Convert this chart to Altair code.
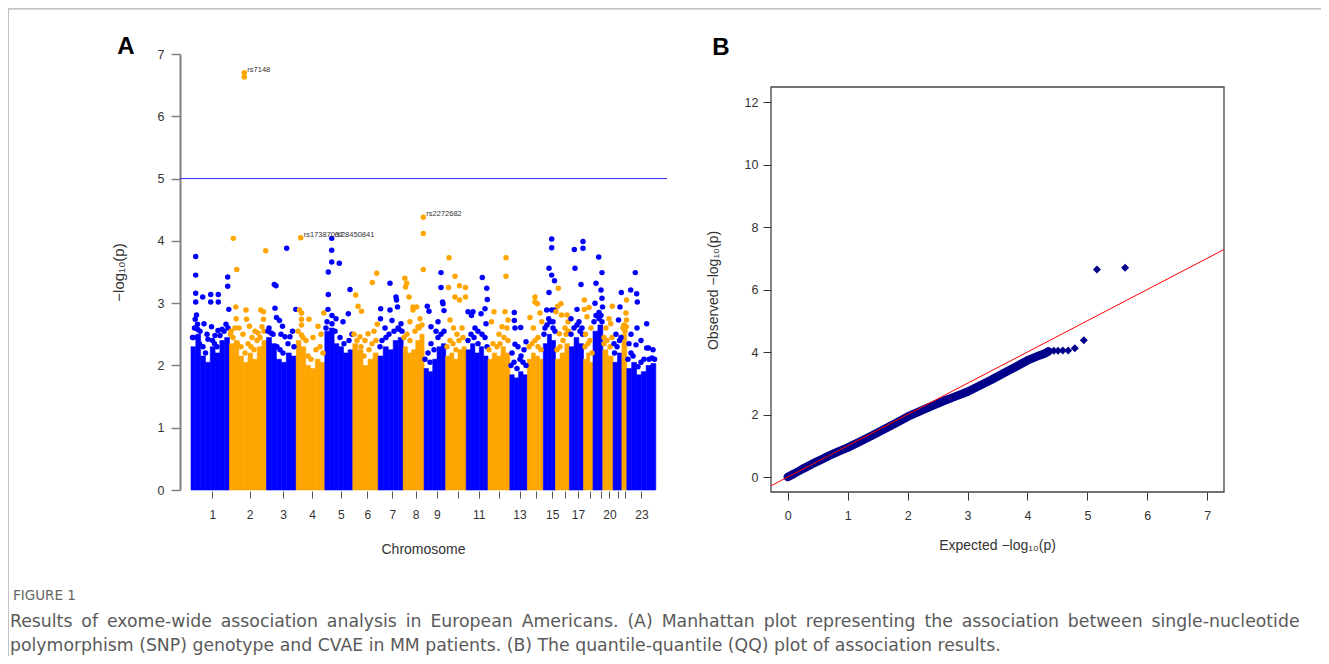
import json
import pandas as pd
import altair as alt

# ---------------- Panel A: Manhattan plot data ----------------
chrom_start = [0, 38.5, 75.5, 105.2, 133.8, 161.8, 187.2, 212.2, 233.1, 254.7, 275.2, 297.0,
               318.8, 336.4, 352.3, 364.5, 378.4, 392.5, 402.0, 411.8, 422.1, 430.9, 435.8]
chrom_end = chrom_start[1:] + [464.8]
tick_pos = [21.3, 58.5, 92.2, 121.2, 149.8, 176.3, 201.4, 224.5, 245.8, 266.5, 287.8, 308.1,
            328.5, 345.1, 361.2, 374.3, 387.0, 399.1, 409.8, 418.4, 427.3, 433.5, 450.4]
tick_label = ["1", "2", "3", "4", "5", "6", "7", "8", "9", "", "11", "", "13", "", "15", "",
              "17", "", "", "20", "", "", "23"]

# top of the dense block of SNPs, several segments per chromosome
band_top = [
    [2.3, 2.5, 2.15, 2.05, 2.3, 2.2, 2.4, 2.45],
    [2.35, 2.4, 2.15, 2.05, 2.2, 2.1, 2.3, 2.4],
    [2.45, 2.35, 2.1, 2.05, 2.2, 2.15],
    [2.4, 2.3, 2.0, 1.95, 2.1, 2.05],
    [2.55, 2.6, 2.35, 2.3, 2.2, 2.25],
    [2.35, 2.25, 2.0, 2.1, 2.2],
    [2.15, 2.3, 2.25, 2.4, 2.45],
    [2.3, 2.2, 2.25, 2.4, 2.5],
    [1.95, 1.9, 2.1, 2.3, 2.35],
    [2.15, 2.2, 2.1, 2.25, 2.3],
    [2.25, 2.35, 2.2, 2.3, 2.15],
    [2.1, 2.2, 2.15, 2.3, 2.2],
    [1.85, 1.8, 1.9, 1.85],
    [2.1, 2.2, 2.15, 2.1],
    [2.35, 2.5, 2.4],
    [2.1, 2.2, 2.35],
    [2.3, 2.45, 2.35],
    [2.1, 2.2, 2.05],
    [2.55, 2.65],
    [2.25, 2.15],
    [2.05, 2.2],
    [2.5],
    [1.95, 2.05, 1.85, 1.9, 2.0, 2.03],
]

# individual SNPs standing above the dense block (cumulative position, -log10 p)
snp_pos = [
    4.7, 4.7, 4.7, 4.7, 11.7, 19.7, 19.7, 27.3, 27.3, 36.7, 36.7, 37.8, 5.5, 4.2, 6.5, 13.0, 20.5, 27.0, 35.0, 9.0, 31.0, 16.0, 2.5, 24.0,
    53.3, 53.3, 42.3, 45.7, 44.8, 45.2, 55.0, 55.5, 69.7, 72.5, 72.5, 74.7, 48.0, 58.5, 64.0, 71.0, 52.0, 40.0, 61.0, 67.0,
    95.7, 83.3, 85.0, 84.0, 85.5, 91.5, 88.5, 104.8, 94.0, 99.0, 78.0, 101.5, 80.0, 90.0,
    109.7, 108.5, 132.8, 118.0, 110.5, 110.5, 110.5, 110.5, 127.0, 122.0, 115.0, 130.0,
    140.7, 140.7, 140.7, 148.3, 137.3, 137.3, 137.0, 159.0, 157.3, 141.0, 152.0, 145.0, 135.0,
    164.7, 167.0, 170.5, 185.7, 181.3, 186.3, 177.0, 169.0, 174.0, 183.0,
    199.0, 189.7, 199.0, 205.0, 205.5, 206.5, 189.5, 201.0, 210.0, 194.0, 208.0,
    232.3, 232.3, 232.3, 213.8, 215.7, 214.5, 218.0, 222.0, 222.0, 229.0, 225.7, 219.0, 227.0,
    236.3, 238.0, 250.0, 250.0, 251.5, 252.0, 253.0, 240.0, 240.0, 245.0, 247.0,
    258.0, 264.0, 268.5, 264.0, 268.5, 274.5, 274.5, 257.5, 262.5, 259.0, 271.0, 266.0,
    291.3, 295.8, 296.3, 277.0, 282.0, 280.5, 290.0, 294.0, 284.0, 295.0, 287.0,
    315.0, 315.0, 303.0, 314.0, 317.0, 300.5, 316.0, 308.0, 311.0,
    323.3, 323.3, 324.0, 329.7, 335.0, 324.0, 321.0, 330.0, 333.0, 327.0,
    339.0, 344.0, 344.0, 346.3, 349.0, 350.7, 342.3, 347.0,
    360.7, 360.7, 358.0, 360.7, 363.5, 358.0, 355.7, 360.7, 364.0, 357.7, 354.0, 362.0,
    367.3, 370.0, 366.7, 365.0, 370.5, 376.0, 368.3, 374.0, 377.0,
    383.3, 392.0, 392.0, 384.0, 390.0, 386.0, 380.0, 388.0, 391.0,
    393.3, 393.3, 398.0, 396.0, 400.0, 394.5,
    407.7, 411.0, 405.0, 410.0, 411.0, 411.5, 404.0, 408.0,
    421.3, 419.7, 415.0, 418.0, 413.0,
    430.3, 429.0, 427.5, 425.0, 423.0,
    435.5, 435.0, 435.5, 433.0,
    444.3, 439.7, 445.7, 446.3, 455.7, 455.7, 457.5, 445.0, 446.0, 440.0, 450.0, 462.0, 438.0,
]
snp_logp = [
    3.75, 3.45, 3.16, 3.02, 3.10, 3.14, 3.02, 3.14, 3.02, 3.42, 3.27, 2.90, 2.81, 2.74, 2.66, 2.67, 2.62, 2.56, 2.66, 2.55, 2.58, 2.50, 2.45, 2.48,
    6.70, 6.63, 4.04, 3.54, 2.94, 2.75, 2.89, 2.74, 2.89, 2.86, 2.74, 3.84, 2.60, 2.63, 2.55, 2.62, 2.50, 2.55, 2.45, 2.52,
    3.88, 3.30, 3.28, 2.92, 2.77, 2.63, 2.72, 2.90, 2.46, 2.46, 2.60, 2.55, 2.52, 2.50,
    4.05, 2.89, 2.84, 2.74, 2.84, 2.74, 2.65, 2.49, 2.63, 2.45, 2.40, 2.50,
    4.04, 3.85, 3.66, 3.64, 3.50, 3.14, 2.90, 3.22, 2.83, 2.67, 2.70, 2.75, 2.60,
    3.13, 2.95, 2.87, 3.48, 3.33, 2.66, 2.51, 2.46, 2.40, 2.55,
    3.32, 2.91, 2.89, 3.10, 3.05, 2.94, 2.75, 2.72, 2.67, 2.60, 2.58,
    4.38, 4.12, 3.54, 3.40, 3.32, 3.26, 3.10, 2.94, 2.89, 2.75, 2.94, 2.70, 2.62,
    2.95, 2.87, 3.49, 3.25, 3.02, 2.99, 2.88, 2.62, 2.35, 2.55, 2.70,
    3.73, 3.43, 3.28, 3.10, 3.05, 3.25, 3.10, 3.25, 2.60, 2.73, 2.60, 2.50,
    3.41, 3.24, 3.06, 2.86, 2.86, 2.80, 2.83, 2.91, 2.60, 2.67, 2.55,
    3.73, 3.43, 2.86, 2.86, 2.73, 2.70, 2.60, 2.50, 2.62,
    2.85, 2.72, 2.60, 2.61, 2.38, 2.34, 2.20, 2.15, 2.25, 2.30,
    2.77, 3.10, 3.02, 2.99, 2.84, 2.70, 2.60, 2.45,
    4.03, 3.89, 3.56, 3.45, 3.36, 3.17, 2.89, 2.89, 2.89, 2.75, 2.60, 2.70,
    3.24, 2.99, 2.95, 2.86, 2.81, 2.81, 2.51, 2.60, 2.70,
    3.86, 3.99, 3.88, 3.56, 3.30, 2.90, 2.75, 2.70, 2.60,
    3.05, 2.90, 2.93, 2.78, 2.60, 2.50,
    3.74, 3.49, 3.32, 3.21, 3.08, 2.94, 3.00, 2.85,
    2.95, 2.67, 2.60, 2.75, 2.45,
    3.17, 2.94, 2.73, 2.50, 2.35,
    3.05, 2.84, 2.73, 2.65,
    3.49, 3.21, 3.15, 3.02, 2.67, 2.28, 2.28, 2.33, 2.60, 2.50, 2.40, 2.25, 2.35,
]

# SNPs along the ragged upper edge of the dense block
fringe_pos = [
    1.5, 3.5, 6.5, 8.5, 12.0, 14.5, 17.0, 21.5, 23.5, 26.0, 29.0, 33.0, 37.0,
    39.5, 42.0, 44.0, 46.5, 50.0, 54.0, 57.0, 60.0, 63.0, 66.0, 69.0, 73.0,
    77.0, 82.0, 86.0, 89.0, 92.0, 97.0, 103.0,
    107.0, 112.0, 117.0, 120.0, 125.0, 129.0, 132.0,
    136.0, 141.0, 144.0, 149.0, 153.0, 158.0, 161.0,
    163.0, 166.0, 170.0, 173.0, 178.0, 181.0, 185.0,
    189.0, 191.0, 195.0, 198.0, 203.0, 207.0, 211.0,
    213.0, 216.0, 219.0, 224.0, 228.0, 231.0,
    234.0, 237.0, 239.0, 243.0, 247.0, 250.0, 253.0,
    256.0, 259.0, 262.0, 265.0, 268.0, 272.0,
    277.0, 280.0, 283.0, 287.0, 291.0, 294.0, 296.0,
    298.0, 302.0, 306.0, 309.0, 313.0, 317.0,
    320.0, 323.0, 326.0, 329.0, 332.0, 335.0,
    338.0, 341.0, 344.0, 347.0, 350.0,
    353.0, 356.0, 359.0, 362.0, 364.0,
    366.0, 369.0, 372.0, 375.0, 377.5,
    380.0, 383.0, 386.0, 389.0, 391.5,
    394.0, 397.0, 399.0, 401.0,
    403.0, 405.0, 408.0, 410.0, 411.0,
    413.0, 416.0, 419.0, 421.0,
    423.5, 426.0, 428.5, 430.0,
    432.0, 434.0, 435.3,
    437.0, 440.0, 442.0, 447.0, 450.0, 453.0, 458.0, 461.0, 463.5,
]
fringe_logp = [
    2.45, 2.60, 2.58, 2.35, 2.30, 2.20, 2.42, 2.40, 2.35, 2.30, 2.48, 2.55, 2.60,
    2.50, 2.45, 2.60, 2.35, 2.30, 2.20, 2.35, 2.30, 2.25, 2.40, 2.45, 2.55,
    2.55, 2.50, 2.30, 2.25, 2.20, 2.35, 2.30,
    2.55, 2.45, 2.15, 2.10, 2.25, 2.30, 2.20,
    2.70, 2.80, 2.55, 2.45, 2.35, 2.40, 2.50,
    2.50, 2.40, 2.30, 2.15, 2.25, 2.35, 2.40,
    2.30, 2.40, 2.45, 2.50, 2.55, 2.60, 2.55,
    2.45, 2.50, 2.40, 2.55, 2.60, 2.65,
    2.10, 2.20, 2.05, 2.25, 2.45, 2.50, 2.55,
    2.30, 2.40, 2.35, 2.25, 2.40, 2.45,
    2.40, 2.50, 2.45, 2.35, 2.50, 2.45, 2.30,
    2.25, 2.35, 2.30, 2.35, 2.45, 2.40,
    2.00, 2.05, 1.95, 2.10, 2.05, 2.00,
    2.30, 2.35, 2.40, 2.30, 2.25,
    2.50, 2.65, 2.70, 2.60, 2.55,
    2.25, 2.30, 2.40, 2.50, 2.55,
    2.50, 2.60, 2.65, 2.55, 2.50,
    2.30, 2.35, 2.40, 2.20,
    2.70, 2.80, 2.75, 2.80, 2.70,
    2.35, 2.40, 2.30, 2.45,
    2.20, 2.30, 2.40, 2.45,
    2.60, 2.55, 2.62,
    2.10, 2.20, 2.15, 1.98, 2.05, 2.10, 2.10, 2.12, 2.10,
]

label_pos = [53.3, 109.7, 140.7, 232.3]
label_logp = [6.70, 4.05, 4.04, 4.38]
label_text = ["rs7148", "rs17387037", "rs28450841", "rs2272682"]

threshold = 5
xA_domain = [-11, 476]
yA_domain = [0, 7]

# ---------------- Panel B: QQ plot data ----------------
qq_expected = [0.0, 0.1, 0.25, 0.4, 0.55, 0.7, 0.85, 1.0, 1.2, 1.4, 1.6, 1.8, 2.0, 2.2, 2.4, 2.6, 2.8,
               3.0, 3.2, 3.4, 3.6, 3.8, 4.0, 4.1, 4.2, 4.3, 4.35, 4.44, 4.51, 4.59, 4.68, 4.79, 4.94,
               5.16, 5.63]
qq_observed = [0.0, 0.1, 0.26, 0.41, 0.55, 0.69, 0.82, 0.94, 1.13, 1.32, 1.52, 1.72, 1.93, 2.10, 2.27,
               2.43, 2.58, 2.73, 2.92, 3.11, 3.32, 3.52, 3.73, 3.81, 3.89, 3.96, 4.02, 4.04, 4.04, 4.05,
               4.05, 4.12, 4.38, 6.64, 6.70]
qq_dense_until = 4.35
qq_xlim = [-0.28, 7.28]
qq_ylim = [-0.48, 12.48]

caption_head = "FIGURE 1"
caption_lines = [
    "Results of exome-wide association analysis in European Americans. (A) Manhattan plot representing the association between single-nucleotide",
    "polymorphism (SNP) genotype and CVAE in MM patients. (B) The quantile-quantile (QQ) plot of association results.",
]

# ---------------- build tables ----------------
BLUE, ORANGE = "#0000FF", "#FFA500"
W, H = 1313, 648


def chrom_of(p):
    for i, (s, e) in enumerate(zip(chrom_start, chrom_end)):
        if s <= p < e:
            return i
    return len(chrom_start) - 1


band_rows = []
for i, tops in enumerate(band_top):
    s, e = chrom_start[i], chrom_end[i]
    step = (e - s) / len(tops)
    for k, t in enumerate(tops):
        band_rows.append({"x0": s + k * step, "x1": s + (k + 1) * step, "base": 0, "top": t,
                          "parity": "odd" if i % 2 == 0 else "even"})
band_df = pd.DataFrame(band_rows)

all_pos = fringe_pos + snp_pos
all_logp = fringe_logp + snp_logp
snp_df = pd.DataFrame({"pos": all_pos, "logp": all_logp})
snp_df["parity"] = ["odd" if chrom_of(p) % 2 == 0 else "even" for p in all_pos]

label_df = pd.DataFrame({"pos": label_pos, "logp": label_logp, "text": label_text})
rule_df = pd.DataFrame({"x": [xA_domain[0]], "x2": [xA_domain[1]], "y": [threshold]})

colA = alt.Scale(domain=["odd", "even"], range=[BLUE, ORANGE])
xA = alt.Scale(domain=xA_domain, range=[172, 659], nice=False, zero=False)
yA = alt.Scale(domain=yA_domain, range=[482, 46], nice=False, zero=False)

label_expr = "%s[indexof(%s, datum.value)]" % (json.dumps(tick_label), json.dumps(tick_pos))
axA_x = alt.Axis(orient="bottom", offset=483 - H, values=tick_pos, labelExpr=label_expr,
                 domain=False, tickSize=7, tickColor="#555", tickWidth=1, labelFontSize=12,
                 labelColor="#333", labelPadding=11, labelFlush=False, labelOverlap=False,
                 title="Chromosome", titleX=415, titleY=58, titleBaseline="middle",
                 titleFontSize=14, titleFontWeight="normal", titleColor="#333", grid=False)
axA_y = alt.Axis(orient="left", offset=-172, values=list(range(0, 8)), domainColor="#808080",
                 domainWidth=2, tickColor="#808080", tickWidth=1.5, tickSize=9, labelFontSize=12.5,
                 labelColor="#333", labelPadding=7, labelFlush=False, title="\u2212log\u2081\u2080(p)",
                 titleX=-62, titleY=264, titleAngle=-90, titleBaseline="middle", titleFontSize=15,
                 titleFontWeight="normal", titleColor="#333", grid=False)

bands = alt.Chart(band_df).mark_rect(strokeWidth=0.6).encode(
    x=alt.X("x0:Q", scale=xA, axis=axA_x), x2="x1:Q",
    y=alt.Y("base:Q", scale=yA, axis=axA_y), y2="top:Q",
    color=alt.Color("parity:N", scale=colA, legend=None),
    stroke=alt.Stroke("parity:N", scale=colA, legend=None),
)
snps = alt.Chart(snp_df).mark_circle(size=30, opacity=1).encode(
    x=alt.X("pos:Q", scale=xA, axis=axA_x),
    y=alt.Y("logp:Q", scale=yA, axis=axA_y),
    color=alt.Color("parity:N", scale=colA, legend=None),
)
thr = alt.Chart(rule_df).mark_rule(color="#2b2bff", strokeWidth=1).encode(
    x=alt.X("x:Q", scale=xA, axis=axA_x), x2="x2:Q",
    y=alt.Y("y:Q", scale=yA, axis=axA_y),
)
labels = alt.Chart(label_df).mark_text(align="left", baseline="middle", dx=3, dy=-3, fontSize=7.5,
                                       color="#333", font="Liberation Sans").encode(
    x=alt.X("pos:Q", scale=xA, axis=axA_x),
    y=alt.Y("logp:Q", scale=yA, axis=axA_y),
    text="text:N",
)
panelA = alt.layer(bands, snps, thr, labels)

# ---------------- Panel B ----------------
qq_df = pd.DataFrame({"exp": qq_expected, "obs": qq_observed})
qq_dense = qq_df[qq_df["exp"] <= qq_dense_until]
box_df = pd.DataFrame({"x": [qq_xlim[0]], "x2": [qq_xlim[1]], "y": [qq_ylim[0]], "y2": [qq_ylim[1]]})
abline_df = pd.DataFrame({"exp": qq_xlim, "obs": qq_xlim})

xB = alt.Scale(domain=qq_xlim, range=[763, 1216], nice=False, zero=False)
yB = alt.Scale(domain=qq_ylim, range=[484, 79], nice=False, zero=False)
axB_x = alt.Axis(orient="bottom", offset=484 - H, values=list(range(0, 8)), domain=False, tickSize=8,
                 tickColor="#333", labelFontSize=12.5, labelColor="#333", labelPadding=9,
                 labelFlush=False, title="Expected  \u2212log\u2081\u2080(p)", titleX=989, titleY=53,
                 titleBaseline="middle", titleFontSize=14, titleFontWeight="normal",
                 titleColor="#333", grid=False)
axB_y = alt.Axis(orient="left", offset=-763, values=list(range(0, 13, 2)), domain=False, tickSize=8,
                 tickColor="#333", labelFontSize=12.5, labelColor="#333", labelPadding=5,
                 labelFlush=False, title="Observed  \u2212log\u2081\u2080(p)", titleX=-58, titleY=282,
                 titleAngle=-90, titleBaseline="middle", titleFontSize=14,
                 titleFontWeight="normal", titleColor="#333", grid=False)

box = alt.Chart(box_df).mark_rect(fill=None, stroke="#444", strokeWidth=1.3).encode(
    x=alt.X("x:Q", scale=xB, axis=axB_x), x2="x2:Q",
    y=alt.Y("y:Q", scale=yB, axis=axB_y), y2="y2:Q",
)
band_line = alt.Chart(qq_dense).mark_line(color="#00008B", strokeWidth=8.5, strokeCap="round",
                                          strokeJoin="round").encode(
    x=alt.X("exp:Q", scale=xB, axis=axB_x), y=alt.Y("obs:Q", scale=yB, axis=axB_y),
)
diamonds = alt.Chart(qq_df).mark_point(shape="diamond", filled=True, size=64, opacity=1,
                                       color="#00008B").encode(
    x=alt.X("exp:Q", scale=xB, axis=axB_x), y=alt.Y("obs:Q", scale=yB, axis=axB_y),
)
abline = alt.Chart(abline_df).mark_line(color="#FF0000", strokeWidth=1).encode(
    x=alt.X("exp:Q", scale=xB, axis=axB_x), y=alt.Y("obs:Q", scale=yB, axis=axB_y),
)
panelB = alt.layer(box, band_line, diamonds, abline)

# ---------------- annotations ----------------
cap1_text = caption_lines[0].replace(" ", " \u2009")

letters = alt.Chart(pd.DataFrame({"t": ["A"]})).mark_text(
    fontSize=24, fontWeight="bold", font="Liberation Sans", align="center", baseline="alphabetic",
    color="#000").encode(x=alt.value(118), y=alt.value(46), text="t:N")
letterB = alt.Chart(pd.DataFrame({"t": ["B"]})).mark_text(
    fontSize=24, fontWeight="bold", font="Liberation Sans", align="center", baseline="alphabetic",
    color="#000").encode(x=alt.value(713), y=alt.value(47), text="t:N")
head = alt.Chart(pd.DataFrame({"t": [caption_head]})).mark_text(
    fontSize=13.5, font="DejaVu Sans", align="left", baseline="middle", color="#666").encode(
    x=alt.value(5), y=alt.value(588), text="t:N")
cap1 = alt.Chart(pd.DataFrame({"t": [cap1_text]})).mark_text(
    fontSize=17.3, font="DejaVu Sans", align="left", baseline="middle", color="#5a5a5a").encode(
    x=alt.value(2), y=alt.value(614), text="t:N")
cap2 = alt.Chart(pd.DataFrame({"t": [caption_lines[1]]})).mark_text(
    fontSize=17.3, font="DejaVu Sans", align="left", baseline="middle", color="#5a5a5a").encode(
    x=alt.value(2), y=alt.value(638), text="t:N")
border_top = alt.Chart(pd.DataFrame({"t": [0]})).mark_rule(color="#aaa", strokeWidth=1).encode(
    x=alt.value(0), x2=alt.value(W), y=alt.value(1))
border_left = alt.Chart(pd.DataFrame({"t": [0]})).mark_rule(color="#aaa", strokeWidth=1).encode(
    x=alt.value(0), y=alt.value(1), y2=alt.value(H))

chart = alt.layer(panelA, panelB, letters, letterB, head, cap1, cap2, border_top, border_left).resolve_scale(
    x="independent", y="independent"
).properties(
    width=W, height=H, autosize=alt.AutoSizeParams(type="none"), padding=0
).configure_view(strokeWidth=0).configure(font="Liberation Sans")

chart.save("out.html", embed_options={"renderer": "svg", "actions": False})
